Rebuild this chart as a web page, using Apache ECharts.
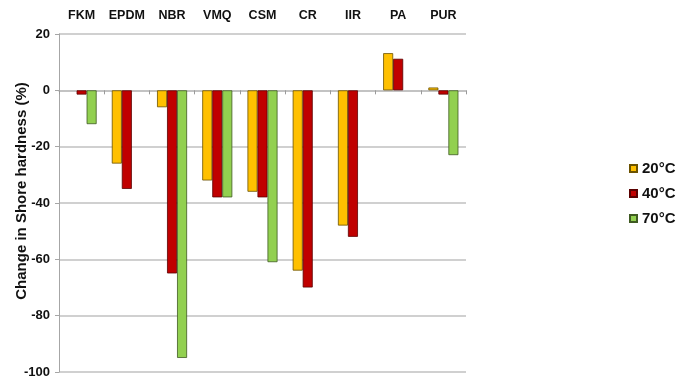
<!DOCTYPE html>
<html>
<head>
<meta charset="utf-8">
<script src="https://cdn.jsdelivr.net/npm/echarts@6/dist/echarts.min.js"></script>
<style>
html,body{margin:0;padding:0;background:#fff;}
#chart{width:686px;height:391px;}
</style>
</head>
<body>
<div id="chart"></div>
<script>
const categories = ['FKM', 'EPDM', 'NBR', 'VMQ', 'CSM', 'CR', 'IIR', 'PA', 'PUR'];
const seriesNames = ['20°C', '40°C', '70°C'];
const values20 = [null, -26, -6, -32, -36, -64, -48, 13.2, 1];
const values40 = [-1.5, -35, -65, -38, -38, -70, -52, 11.2, -1.5];
const values70 = [-12, null, -95, -38, -61, null, null, null, -23];
const yTicks = { min: -100, max: 20, interval: 20 };
const yAxisTitle = 'Change in Shore hardness (%)';

const colors = ['#FFC000', '#C00000', '#92D050'];
const borders = ['#6b5200', '#5a0000', '#3f5a22'];
const font = '"Liberation Sans", Arial, sans-serif';
const allValues = [values20, values40, values70];

const chart = echarts.init(document.getElementById('chart'), null, { renderer: 'canvas' });
chart.setOption({
  animation: false,
  backgroundColor: '#ffffff',
  grid: { left: 59, right: 220, top: 34, bottom: 19, containLabel: false },
  legend: {
    orient: 'vertical',
    left: 629,
    top: 161,
    padding: 0,
    itemWidth: 7,
    itemHeight: 7,
    itemGap: 10,
    icon: 'rect',
    textStyle: { fontFamily: font, fontWeight: 'bold', fontSize: 15, color: '#111' },
    data: seriesNames
  },
  xAxis: [
    {
      type: 'category',
      data: categories,
      position: 'top',
      axisLine: { show: false, onZero: false },
      axisTick: { show: false },
      axisLabel: { interval: 0, margin: 12, fontFamily: font, fontWeight: 'bold', fontSize: 12.5, color: '#111' }
    },
    {
      type: 'category',
      data: categories,
      position: 'bottom',
      axisLine: { show: true, onZero: true, onZeroAxisIndex: 0, lineStyle: { color: '#bfbfbf', width: 1.5 } },
      axisTick: { show: true, inside: false, length: 4, lineStyle: { color: '#9a9a9a' } },
      axisLabel: { show: false }
    }
  ],
  yAxis: {
    type: 'value',
    min: yTicks.min,
    max: yTicks.max,
    interval: yTicks.interval,
    axisLine: { show: true, lineStyle: { color: '#a6a6a6', width: 1 } },
    axisTick: { show: true, length: 4, lineStyle: { color: '#a6a6a6' } },
    splitLine: { show: true, lineStyle: { color: '#c0c0c0', width: 1.5 } },
    axisLabel: { margin: 9, fontFamily: font, fontWeight: 'bold', fontSize: 13, color: '#111' }
  },
  graphic: [{
    type: 'text',
    x: 22,
    y: 191,
    rotation: Math.PI / 2,
    style: {
      text: yAxisTitle,
      fontFamily: font,
      fontWeight: 'bold',
      fontSize: 15,
      fill: '#111',
      align: 'center',
      verticalAlign: 'middle'
    }
  }],
  series: seriesNames.map((name, i) => ({
    name: name,
    type: 'bar',
    xAxisIndex: 1,
    data: allValues[i],
    barGap: '0%',
    barCategoryGap: '33.6%',
    itemStyle: { color: colors[i], borderColor: borders[i], borderWidth: 0.8 }
  }))
});
</script>
</body>
</html>
